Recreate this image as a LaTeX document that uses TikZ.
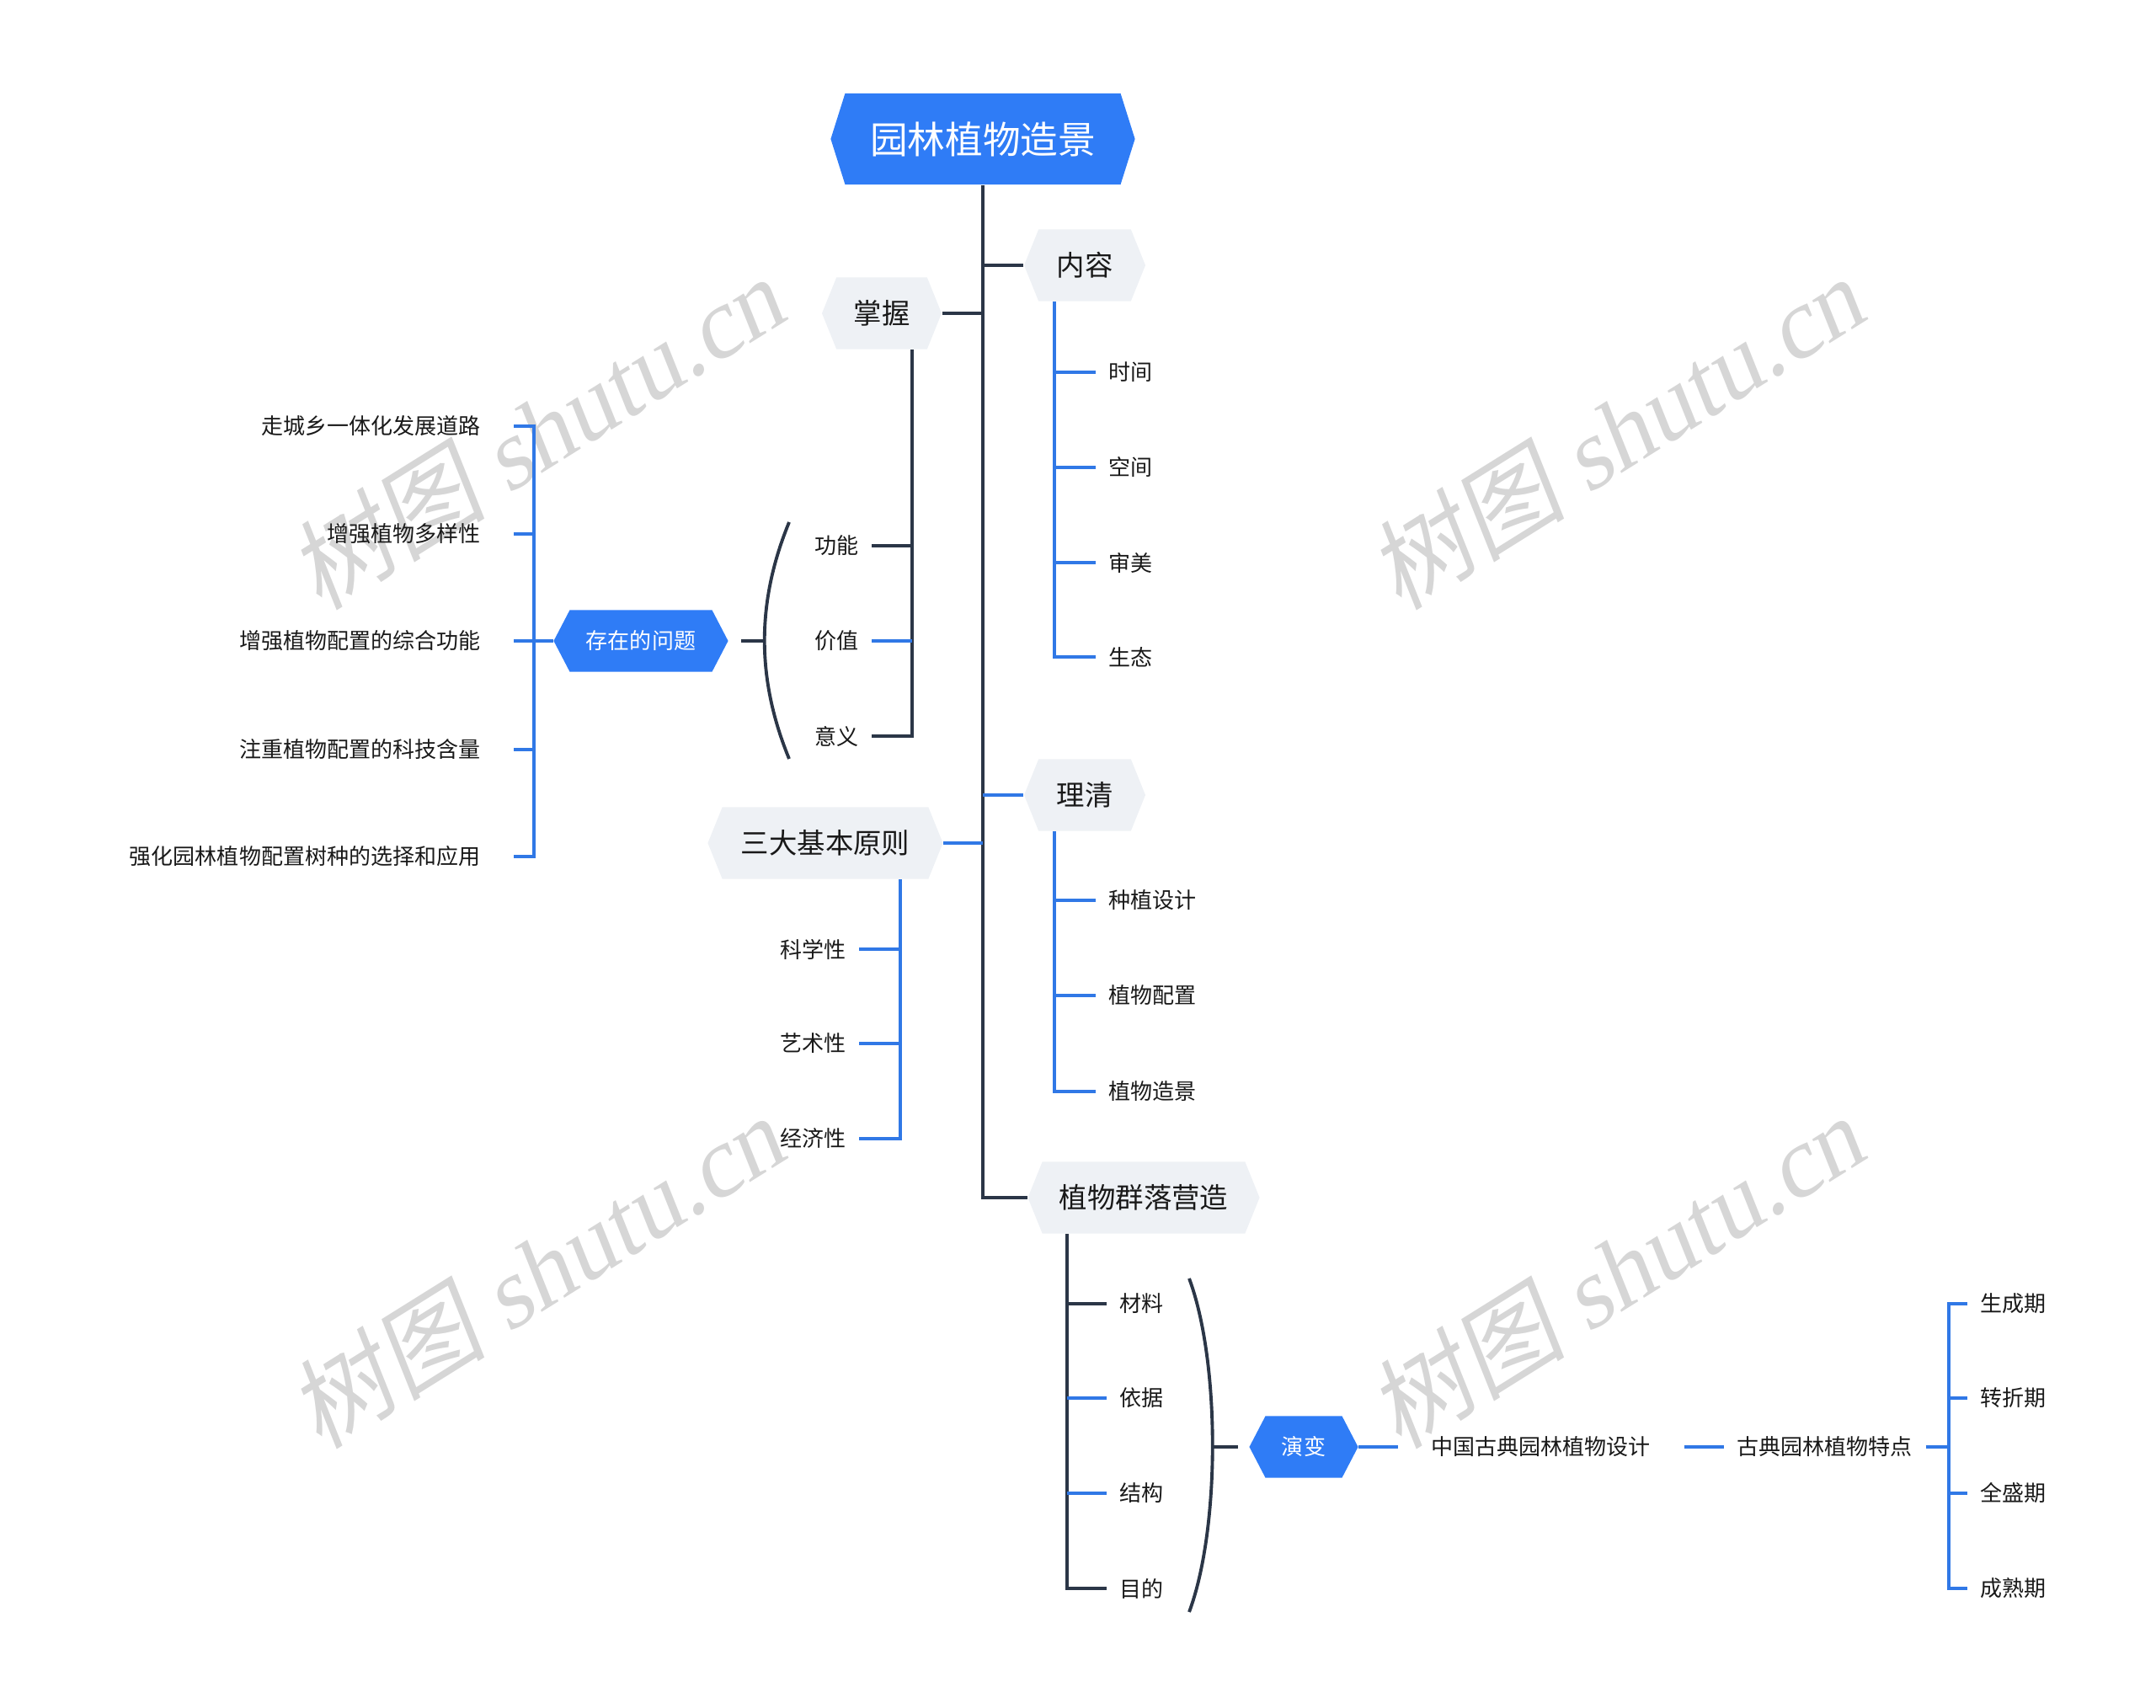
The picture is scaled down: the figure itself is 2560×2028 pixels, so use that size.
\documentclass[tikz,border=0pt]{standalone}
\usepackage{fontspec}
\setmainfont{Noto Sans CJK SC}
\newfontfamily\wmfont{Liberation Serif}
\usetikzlibrary{shapes.symbols}

\definecolor{mapblue}{HTML}{2F7CF6}
\definecolor{mapline}{HTML}{3078E6}
\definecolor{mapdark}{HTML}{2B3647}
\definecolor{mapgray}{HTML}{EEF1F5}
\definecolor{wmgray}{HTML}{D6D6D6}

\begin{document}
\begin{tikzpicture}[
    x=0.01cm, y=-0.01cm,
    rootbox/.style={
        signal, signal to=west and east, signal pointer angle=145,
        fill=mapblue, text=white,
        font=\fontsize{12.7}{14}\selectfont,
        minimum width=3.61cm, minimum height=1.08cm, inner sep=0pt
    },
    topicbox/.style={
        signal, signal to=west and east, signal pointer angle=136,
        fill=mapgray, text=black!90,
        font=\fontsize{9.5}{11}\selectfont,
        minimum height=0.85cm, inner sep=0pt
    },
    bluebox/.style={
        signal, signal to=west and east, signal pointer angle=125,
        fill=mapblue, text=white,
        font=\fontsize{7.4}{9}\selectfont,
        minimum height=0.73cm, inner sep=0pt
    },
    leaf/.style={font=\fontsize{7.4}{9}\selectfont, text=black!90,
        inner xsep=0.15cm, inner ysep=0pt},
    farleaf/.style={leaf, inner xsep=0.39cm},
    darkline/.style={draw=mapdark, line width=1.1pt},
    blueline/.style={draw=mapline, line width=1.1pt},
    watermark/.style={text=wmgray, rotate=32, xslant=0.18,
        font=\fontsize{33.5}{38}\selectfont}
]
\useasboundingbox (0,0) rectangle (2560,2028);

% Wasserzeichen
\foreach \x/\y [count=\i] in {643/510, 1925/510, 643/1506, 1925/1506} {
    \node[watermark] (wm\i) at (\x,\y) {树图 {\wmfont shutu.cn}};
}

% =========================================================
% Hauptknoten
% =========================================================
\node[rootbox] (root) at (1167,165) {园林植物造景};

\node[topicbox, minimum width=1.44cm] (neirong) at (1288,315) {内容};
\node[topicbox, minimum width=1.42cm] (zhangwo) at (1047,372) {掌握};
\node[topicbox, minimum width=1.44cm] (liqing) at (1288,944) {理清};
\node[topicbox, minimum width=2.79cm] (yuanze) at (980,1001) {三大基本原则};
\node[topicbox, minimum width=2.75cm] (qunluo) at (1358,1422) {植物群落营造};

% Stamm
\coordinate (trunk) at (root.south);
\draw[darkline] (root.south) -- (trunk |- qunluo.west) -- (qunluo.west);
\draw[darkline] (neirong.west) -- (neirong.west -| trunk);
\draw[darkline] (zhangwo.east) -- (zhangwo.east -| trunk);
\draw[blueline] (liqing.west) -- (liqing.west -| trunk);
\draw[blueline] (yuanze.east) -- (yuanze.east -| trunk);

% =========================================================
% 内容
% =========================================================
\foreach \t/\y [count=\i] in {时间/442, 空间/555, 审美/668, 生态/780} {
    \node[leaf, anchor=west] (nr\i) at (1301,\y) {\t};
}
\coordinate (nrbus) at (1252,0);
\draw[blueline] (nrbus |- neirong.south) |- (nr4.west);
\foreach \i in {1,2,3} {
    \draw[blueline] (nrbus |- nr\i.west) -- (nr\i.west);
}

% =========================================================
% 掌握
% =========================================================
\foreach \t/\y [count=\i] in {功能/648, 价值/761, 意义/874} {
    \node[leaf, anchor=east] (zw\i) at (1035,\y) {\t};
}
\coordinate (zwbus) at (1083,0);
\draw[darkline] (zwbus |- zhangwo.south) |- (zw3.east);
\draw[darkline] (zwbus |- zw1.east) -- (zw1.east);
\draw[blueline] (zwbus |- zw2.east) -- (zw2.east);

% Klammer links
\draw[darkline] (937,620) .. controls (898,715) and (898,806) .. (937,901);
\coordinate (parenL) at (908,761);

\node[bluebox, minimum width=2.07cm] (wenti) at (761,761) {存在的问题};
\draw[darkline] (parenL) -- ([xshift=0.15cm]wenti.east);

\foreach \t/\y [count=\i] in {走城乡一体化发展道路/506, 增强植物多样性/634,
        增强植物配置的综合功能/761, 注重植物配置的科技含量/890,
        强化园林植物配置树种的选择和应用/1017} {
    \node[farleaf, anchor=east] (wt\i) at (610,\y) {\t};
}
\coordinate (wtbus) at (634,0);
\draw[blueline] (wt1.east) -| (wtbus |- wt5.east) -- (wt5.east);
\foreach \i in {2,3,4} {
    \draw[blueline] (wtbus |- wt\i.east) -- (wt\i.east);
}
\draw[blueline] (wenti.west) -- (wenti.west -| wtbus);

% =========================================================
% 理清
% =========================================================
\foreach \t/\y [count=\i] in {种植设计/1069, 植物配置/1182, 植物造景/1296} {
    \node[leaf, anchor=west] (lq\i) at (1301,\y) {\t};
}
\coordinate (lqbus) at (1252,0);
\draw[blueline] (lqbus |- liqing.south) |- (lq3.west);
\foreach \i in {1,2} {
    \draw[blueline] (lqbus |- lq\i.west) -- (lq\i.west);
}

% =========================================================
% 三大基本原则
% =========================================================
\foreach \t/\y [count=\i] in {科学性/1127, 艺术性/1239, 经济性/1352} {
    \node[leaf, anchor=east] (yz\i) at (1020,\y) {\t};
}
\coordinate (yzbus) at (1069,0);
\draw[blueline] (yzbus |- yuanze.south) |- (yz3.east);
\foreach \i in {1,2} {
    \draw[blueline] (yzbus |- yz\i.east) -- (yz\i.east);
}

% =========================================================
% 植物群落营造
% =========================================================
\foreach \t/\y [count=\i] in {材料/1548, 依据/1660, 结构/1773, 目的/1886} {
    \node[leaf, anchor=west] (ql\i) at (1314,\y) {\t};
}
\coordinate (qlbus) at (1267,0);
\draw[darkline] (qlbus |- qunluo.south) |- (ql4.west);
\draw[darkline] (qlbus |- ql1.west) -- (ql1.west);
\draw[blueline] (qlbus |- ql2.west) -- (ql2.west);
\draw[blueline] (qlbus |- ql3.west) -- (ql3.west);

% Klammer rechts
\draw[darkline] (1412,1518) .. controls (1449,1617) and (1449,1815) .. (1412,1914);
\coordinate (parenR) at (1440,1718);

\node[bluebox, minimum width=1.29cm] (yanbian) at (1548,1718) {演变};
\draw[darkline] (parenR) -- ([xshift=-0.13cm]yanbian.west);

\node[farleaf, anchor=west] (sheji) at (1660,1718) {中国古典园林植物设计};
\draw[blueline] (yanbian.east) -- (sheji.west);
\node[leaf, anchor=west] (tedian) at (2047,1718) {古典园林植物特点};
\draw[blueline] (sheji.east) -- (tedian.west);

\foreach \t/\y [count=\i] in {生成期/1548, 转折期/1660, 全盛期/1773, 成熟期/1886} {
    \node[leaf, anchor=west] (td\i) at (2336,\y) {\t};
}
\coordinate (tdbus) at (2314,0);
\draw[blueline] (td1.west) -| (tdbus |- td4.west) -- (td4.west);
\foreach \i in {2,3} {
    \draw[blueline] (tdbus |- td\i.west) -- (td\i.west);
}
\draw[blueline] (tedian.east) -- (tedian.east -| tdbus);

\end{tikzpicture}
\end{document}
